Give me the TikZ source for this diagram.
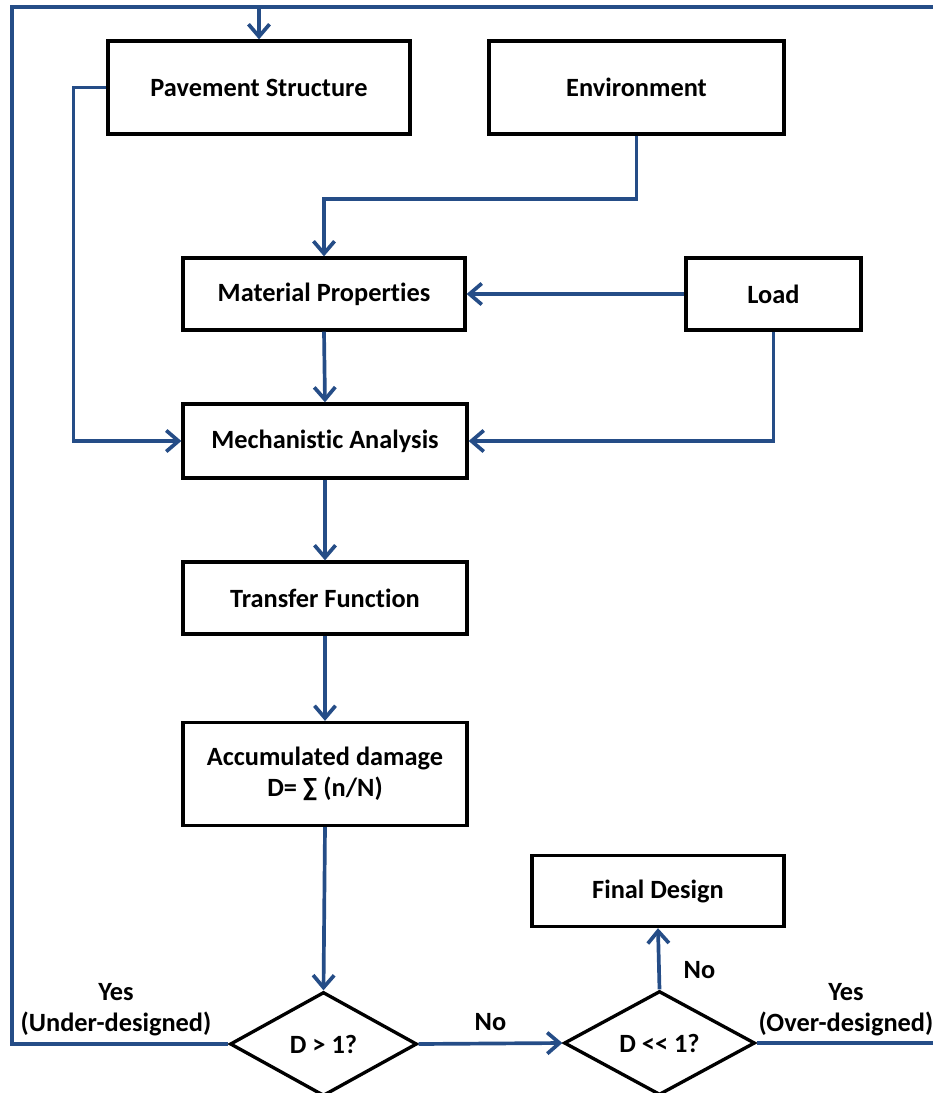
\documentclass[tikz,border=0pt]{standalone}
\usepackage{fontspec}
\setmainfont{Carlito}[Ligatures=NoCommon]
\usetikzlibrary{arrows.meta,shapes.geometric}
\definecolor{flowblue}{RGB}{37,77,135}
\tikzset{
  box/.style={draw,line width=1.9pt,rectangle,align=center,font=\bfseries\fontsize{15}{17.6}\selectfont},
  test/.style={draw,line width=1.9pt,diamond,inner sep=0pt,align=center,font=\bfseries\fontsize{15}{17.6}\selectfont},
  lbl/.style={align=center,inner sep=1pt,font=\bfseries\fontsize{15}{17.6}\selectfont},
  flowline/.style={draw=flowblue,line width=2.1pt},
  flow/.style={flowline,-{Straight Barb[length=7pt,width=12pt,line width=2.1pt]}}
}
\begin{document}
\begin{tikzpicture}[x=0.02cm,y=-0.02cm]
        \useasboundingbox (0,0) rectangle (933,1093);
        %% Boxes
        \node[box,minimum width=6.04cm,minimum height=1.86cm] (pave) at (259,87.5) {Pavement Structure};
        \node[box,minimum width=5.90cm,minimum height=1.86cm] (env) at (636.5,87.5) {Environment};
        \node[box,minimum width=5.64cm,minimum height=1.44cm] (mat) at (324,294) {Material Properties};
        \node[box,minimum width=3.50cm,minimum height=1.44cm] (load) at (773.5,294) {Load};
        \node[box,minimum width=5.68cm,minimum height=1.48cm] (mech) at (325,441) {Mechanistic Analysis};
        \node[box,minimum width=5.68cm,minimum height=1.44cm] (trans) at (325,598) {Transfer Function};
        \node[box,minimum width=5.68cm,minimum height=2.06cm] (accum) at (325,774) {Accumulated damage\\D= ∑ (n/N)};
        \node[box,minimum width=5.04cm,minimum height=1.42cm] (final) at (658,891) {Final Design};
        %% Decisions
        \node[test,minimum width=3.74cm,minimum height=2.08cm] (dgt) at (323.5,1044) {D > 1?};
        \node[test,minimum width=3.82cm,minimum height=2.08cm] (dll) at (659.5,1043) {D <{}< 1?};
        %% Labels
        \node[lbl] (yesunder) at (116,1010) {Yes\\(Under-designed)};
        \node[lbl] (yesover) at (846,1010) {Yes\\(Over-designed)};
        %% Feedback loop
        \coordinate (loop) at (259,7);
        \draw[flowline] (dgt.west) -| (12,7) -- (loop);
        \draw[flowline] (dll.east) -| (935,7) -- (loop);
        \draw[flow] (loop) -- (pave.north);
        %% Connectors
        \draw[flow] (pave.west) -- ++(-33,0) |- (mech.west);
        \draw[flow] (env.south) -- ++(0,63) -| (mat.north);
        \draw[flow] (load.west) -- (mat.east);
        \draw[flow] (load.south) |- (mech.east);
        \draw[flow] (mat.south) -- (mech.north);
        \draw[flow] (mech.south) -- (trans.north);
        \draw[flow] (trans.south) -- (accum.north);
        \draw[flow] (accum.south) -- (dgt.north);
        \draw[flow] (dgt.east) -- node[lbl,above=5pt] (nobig) {No} (dll.west);
        \draw[flow] (dll.north) -- node[lbl,right=12pt,pos=0.32] (nosmall) {No} (final.south);
\end{tikzpicture}
\end{document}
